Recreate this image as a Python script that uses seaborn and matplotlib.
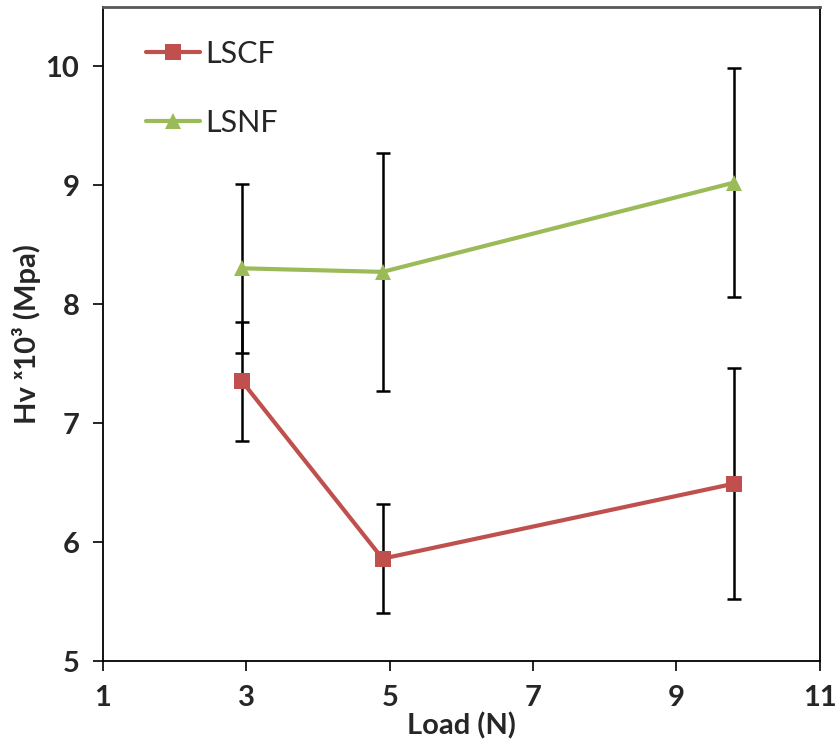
import matplotlib
matplotlib.use("Agg")
import matplotlib.pyplot as plt
import seaborn as sns
import pandas as pd

load = [2.94, 4.9, 9.8]
lscf = [7.35, 5.86, 6.49]
lscf_err = [0.50, 0.46, 0.97]
lsnf = [8.30, 8.27, 9.02]
lsnf_err = [0.71, 1.00, 0.96]
xticks = [1, 3, 5, 7, 9, 11]
yticks = [5, 6, 7, 8, 9, 10]

sns.set_theme(style="white")
plt.rcParams['font.family'] = ['Lato', 'DejaVu Sans']

df = pd.concat([
    pd.DataFrame({"Load": load, "Hv": lscf, "err": lscf_err, "Sample": "LSCF"}),
    pd.DataFrame({"Load": load, "Hv": lsnf, "err": lsnf_err, "Sample": "LSNF"}),
])

colors = {"LSCF": "#C0504D", "LSNF": "#9BBB59"}
markers = {"LSCF": "s", "LSNF": "^"}

fig = plt.figure(figsize=(8.4, 7.48), dpi=100)
ax = fig.add_axes([0.1226, 0.1163, 0.976 - 0.1226, 0.9913 - 0.1163])

for name, sub in df.groupby("Sample"):
    ax.errorbar(sub["Load"], sub["Hv"], yerr=sub["err"], fmt="none",
                ecolor="black", elinewidth=1.8, capsize=5, capthick=1.8, zorder=2)

sns.lineplot(data=df, x="Load", y="Hv", hue="Sample", style="Sample",
             palette=colors, markers=markers, dashes=False, linewidth=3,
             markersize=11, markeredgewidth=0, ax=ax, zorder=3, sort=False)

ax.set_xlim(1, 11)
ax.set_ylim(5, 10.5)
ax.set_xticks(xticks)
ax.set_yticks(yticks)
ax.set_xticklabels([str(t) for t in xticks], fontsize=21, fontweight="bold")
ax.set_yticklabels([str(t) for t in yticks], fontsize=21, fontweight="bold")
ax.tick_params(axis="both", direction="out", length=7, width=1.2, color="black",
               bottom=True, left=True)
ax.tick_params(axis="x", pad=10)
ax.tick_params(axis="y", pad=10)

ax.set_xlabel("Load (N)", fontsize=21, fontweight="bold", labelpad=1)
ax.set_ylabel("Hv \u02e310\u00b3 (Mpa)", fontsize=21, fontweight="bold", labelpad=3)

for side in ["left", "right", "bottom"]:
    ax.spines[side].set_color("black")
    ax.spines[side].set_linewidth(1.3)
ax.spines["top"].set_color("#595959")
ax.spines["top"].set_linewidth(2)

leg = ax.legend(loc="upper left", frameon=False, fontsize=22, handlelength=1.75,
                labelspacing=1.35, handletextpad=0.2, borderaxespad=0.0,
                bbox_to_anchor=(0.043, 0.968))

fig.savefig("out.png", dpi=100)
